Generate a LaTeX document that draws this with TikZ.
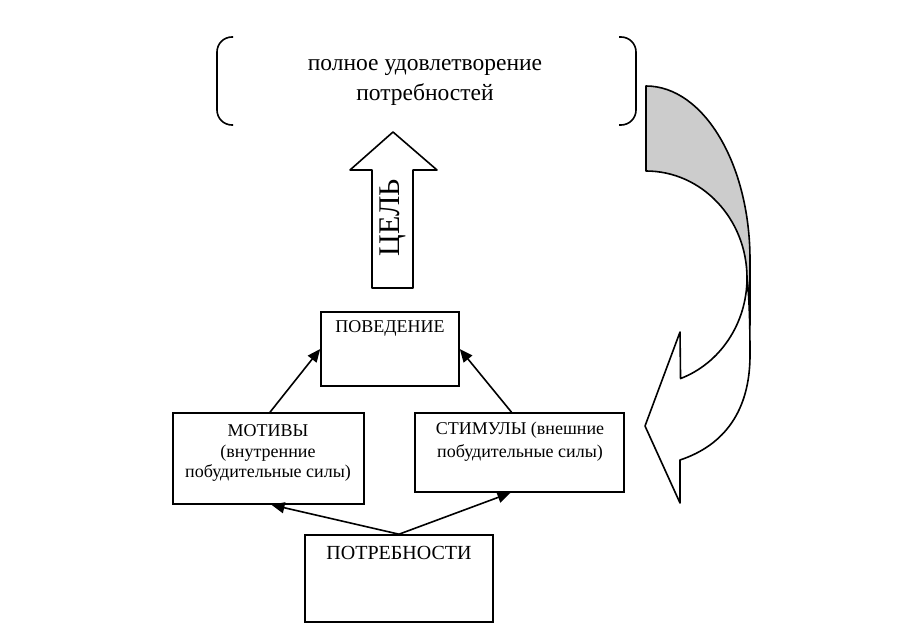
\documentclass[tikz,border=0pt]{standalone}
\usepackage{fontspec}
\setmainfont{Liberation Serif}
\usetikzlibrary{arrows.meta}
\tikzset{
  boxnode/.style={draw, rectangle, line width=1.6pt, inner sep=0pt},
  txt/.style={align=center, inner sep=0pt},
  arr/.style={line width=1.6pt, -{Triangle[length=13pt,width=11pt]}},
  outline/.style={line width=1.6pt, line join=round},
}
\begin{document}
\begin{tikzpicture}[x=1pt,y=-1pt]
\useasboundingbox (0,0) rectangle (915,639);
% top bracket box
\coordinate (tl1) at (233,37);
\coordinate (tl2) at (217,37);
\coordinate (tl3) at (217,125);
\coordinate (tl4) at (233,125);
\coordinate (tr1) at (619,37);
\coordinate (tr2) at (636,37);
\coordinate (tr3) at (636,125);
\coordinate (tr4) at (619,125);
\draw[outline, rounded corners=15pt] (tl1) -- (tl2) -- (tl3) -- (tl4);
\draw[outline, rounded corners=15pt] (tr1) -- (tr2) -- (tr3) -- (tr4);
\node[txt, font=\fontsize{23.5}{30}\selectfont] (goaltext) at (425,82) {полное удовлетворение\\потребностей};
% up arrow
\draw[outline, fill=white] (372,288) -- (372,170) -- (350,170) -- (393,132) -- (437,170) -- (413,170) -- (413,288) -- cycle;
\node[txt, rotate=90, font=\fontsize{30}{30}\selectfont] (goal) at (393,218) {ЦЕЛЬ};
% boxes
\node[boxnode, minimum width=138pt, minimum height=74pt] (beh) at (390,349) {};
\node[boxnode, minimum width=191pt, minimum height=91pt] (mot) at (268.5,458.5) {};
\node[boxnode, minimum width=209pt, minimum height=79pt] (stim) at (519.5,452.5) {};
\node[boxnode, minimum width=188pt, minimum height=87pt] (need) at (399,578.5) {};
\node[txt, font=\fontsize{18}{21}\selectfont] (behtext) at (390,328) {ПОВЕДЕНИЕ};
\node[txt, font=\fontsize{18}{20.5}\selectfont] (mottext) at (268,453) {МОТИВЫ\\(внутренние\\побудительные силы)};
\node[txt, font=\fontsize{18}{23}\selectfont] (stimtext) at (520,442) {СТИМУЛЫ (внешние\\побудительные силы)};
\node[txt, font=\fontsize{20}{24}\selectfont] (needtext) at (399,553) {ПОТРЕБНОСТИ};
% connectors
\draw[arr] ([xshift=1.5pt]mot.north) -- (beh.west);
\draw[arr] ([xshift=-8pt]stim.north) -- (beh.east);
\draw[arr] (need.north) -- ([xshift=3pt]mot.south);
\draw[arr] (need.north) -- ([xshift=-9pt]stim.south);
% curved arrow
\draw[outline, fill=black!20] (646,86) arc[start angle=-90, end angle=0, x radius=104, y radius=174]
  -- (750,325) -- (747,278) arc[start angle=0, end angle=-90, x radius=101, y radius=107] -- cycle;
\draw[outline, fill=white] (747,278) arc[start angle=0, end angle=70, x radius=101, y radius=107]
  -- (680,332) -- (645,426) -- (680,503) -- (680,460)
  .. controls (725,445) and (750,410) .. (750,355)
  .. controls (750,320) and (749,295) .. (747,278) -- cycle;
\end{tikzpicture}
\end{document}
